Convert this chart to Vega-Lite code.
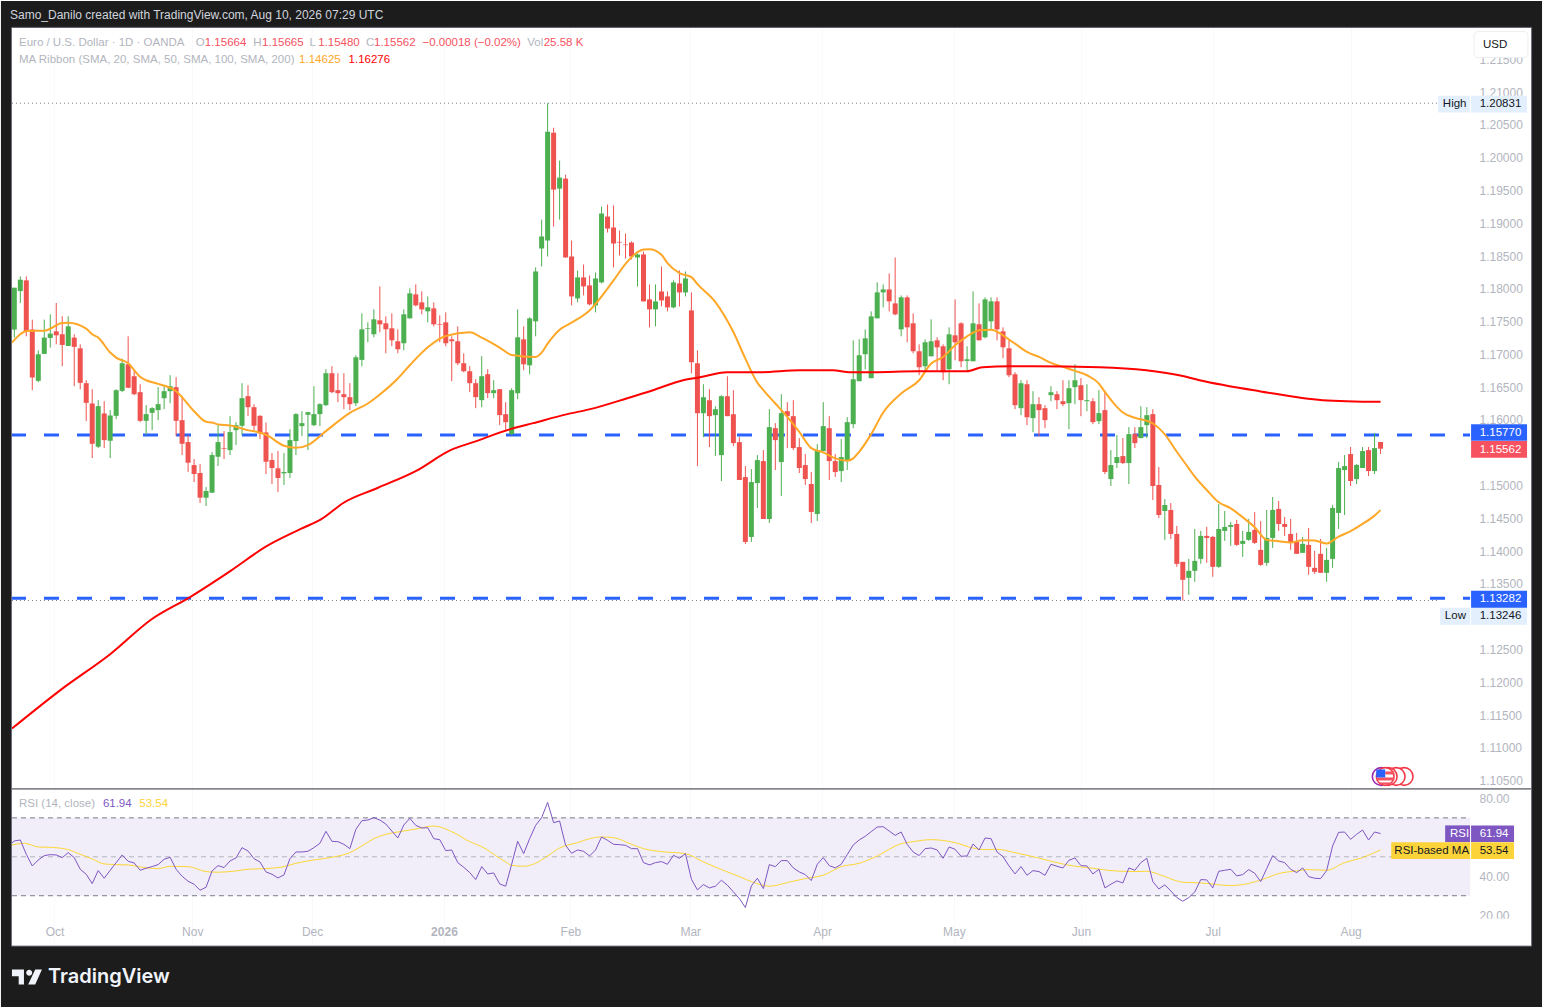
{
  "$schema": "https://vega.github.io/schema/vega-lite/v6.json",
  "width": 1543,
  "height": 1008,
  "autosize": {"type": "fit", "contains": "padding"},
  "padding": 0,
  "background": "#ffffff",
  "config": {
    "font": "Liberation Sans",
    "view": {"stroke": null},
    "axis": {"labelFont": "Liberation Sans", "labelFontSize": 12, "labelColor": "#b2b5be", "domain": false, "ticks": false, "title": null}
  },
  "datasets": {
    "candles": [
      {"i":0,"o":1.17378,"h":1.18017,"l":1.17256,"c":1.18017},
      {"i":1,"o":1.17966,"h":1.18189,"l":1.17784,"c":1.18139},
      {"i":2,"o":1.18129,"h":1.18189,"l":1.17276,"c":1.17357},
      {"i":3,"o":1.17378,"h":1.1753,"l":1.16454,"c":1.16647},
      {"i":4,"o":1.16596,"h":1.17063,"l":1.16576,"c":1.17002},
      {"i":5,"o":1.17007,"h":1.1753,"l":1.17007,"c":1.17256},
      {"i":6,"o":1.17251,"h":1.17611,"l":1.17104,"c":1.17317},
      {"i":7,"o":1.17352,"h":1.17784,"l":1.17154,"c":1.17291},
      {"i":8,"o":1.17307,"h":1.17581,"l":1.1682,"c":1.17144},
      {"i":9,"o":1.17129,"h":1.17581,"l":1.17129,"c":1.17428},
      {"i":10,"o":1.17256,"h":1.17307,"l":1.16515,"c":1.17114},
      {"i":11,"o":1.17093,"h":1.17154,"l":1.16469,"c":1.16566},
      {"i":12,"o":1.16561,"h":1.16606,"l":1.15982,"c":1.16261},
      {"i":13,"o":1.16251,"h":1.16469,"l":1.15419,"c":1.15637},
      {"i":14,"o":1.15592,"h":1.16302,"l":1.15571,"c":1.16211},
      {"i":15,"o":1.16099,"h":1.16287,"l":1.15571,"c":1.15693},
      {"i":16,"o":1.15683,"h":1.1615,"l":1.15419,"c":1.16068},
      {"i":17,"o":1.16063,"h":1.16469,"l":1.16013,"c":1.16454},
      {"i":18,"o":1.16444,"h":1.16936,"l":1.16424,"c":1.16865},
      {"i":19,"o":1.1685,"h":1.17276,"l":1.16485,"c":1.1649},
      {"i":20,"o":1.16667,"h":1.16759,"l":1.16378,"c":1.16393},
      {"i":21,"o":1.16424,"h":1.16545,"l":1.15967,"c":1.15987},
      {"i":22,"o":1.15987,"h":1.16226,"l":1.15769,"c":1.16089},
      {"i":23,"o":1.16109,"h":1.16195,"l":1.15845,"c":1.1618},
      {"i":24,"o":1.1615,"h":1.165,"l":1.15997,"c":1.16241},
      {"i":25,"o":1.16332,"h":1.16515,"l":1.16165,"c":1.16439},
      {"i":26,"o":1.16439,"h":1.16683,"l":1.16256,"c":1.16515},
      {"i":27,"o":1.165,"h":1.16652,"l":1.15754,"c":1.15987},
      {"i":28,"o":1.15997,"h":1.16363,"l":1.15465,"c":1.15637},
      {"i":29,"o":1.15663,"h":1.15769,"l":1.15206,"c":1.15348},
      {"i":30,"o":1.15312,"h":1.15404,"l":1.15054,"c":1.15176},
      {"i":31,"o":1.15191,"h":1.15328,"l":1.14734,"c":1.14815},
      {"i":32,"o":1.14815,"h":1.14978,"l":1.14688,"c":1.14917},
      {"i":33,"o":1.14891,"h":1.1551,"l":1.14886,"c":1.15465},
      {"i":34,"o":1.15439,"h":1.15921,"l":1.15297,"c":1.15663},
      {"i":35,"o":1.15571,"h":1.1583,"l":1.15404,"c":1.15561},
      {"i":36,"o":1.15541,"h":1.16058,"l":1.15465,"c":1.15815},
      {"i":37,"o":1.15845,"h":1.15967,"l":1.15617,"c":1.15921},
      {"i":38,"o":1.15911,"h":1.16561,"l":1.15769,"c":1.16332},
      {"i":39,"o":1.16363,"h":1.1653,"l":1.16058,"c":1.16195},
      {"i":40,"o":1.16195,"h":1.16241,"l":1.15845,"c":1.15911},
      {"i":41,"o":1.16063,"h":1.16074,"l":1.15708,"c":1.15795},
      {"i":42,"o":1.1581,"h":1.15962,"l":1.15176,"c":1.15363},
      {"i":43,"o":1.15389,"h":1.15495,"l":1.15023,"c":1.15267},
      {"i":44,"o":1.15262,"h":1.15526,"l":1.14901,"c":1.15115},
      {"i":45,"o":1.15186,"h":1.15495,"l":1.15008,"c":1.15206},
      {"i":46,"o":1.15191,"h":1.1586,"l":1.15115,"c":1.15693},
      {"i":47,"o":1.15678,"h":1.16104,"l":1.15465,"c":1.16089},
      {"i":48,"o":1.15906,"h":1.16134,"l":1.15754,"c":1.15952},
      {"i":49,"o":1.16079,"h":1.16119,"l":1.15541,"c":1.16119},
      {"i":50,"o":1.15921,"h":1.16515,"l":1.15906,"c":1.16089},
      {"i":51,"o":1.16089,"h":1.16256,"l":1.15906,"c":1.16241},
      {"i":52,"o":1.16226,"h":1.16774,"l":1.16211,"c":1.16713},
      {"i":53,"o":1.16713,"h":1.1682,"l":1.16409,"c":1.16424},
      {"i":54,"o":1.16454,"h":1.16713,"l":1.16271,"c":1.16409},
      {"i":55,"o":1.16393,"h":1.16713,"l":1.16165,"c":1.16348},
      {"i":56,"o":1.16348,"h":1.16561,"l":1.1615,"c":1.16241},
      {"i":57,"o":1.16256,"h":1.16987,"l":1.16211,"c":1.16956},
      {"i":58,"o":1.16916,"h":1.17626,"l":1.1682,"c":1.17383},
      {"i":59,"o":1.17388,"h":1.17489,"l":1.17185,"c":1.17398},
      {"i":60,"o":1.17307,"h":1.17687,"l":1.17261,"c":1.17535},
      {"i":61,"o":1.1752,"h":1.18037,"l":1.17337,"c":1.17459},
      {"i":62,"o":1.17474,"h":1.17581,"l":1.17017,"c":1.17383},
      {"i":63,"o":1.17398,"h":1.17626,"l":1.17124,"c":1.17215},
      {"i":64,"o":1.172,"h":1.17383,"l":1.17017,"c":1.17078},
      {"i":65,"o":1.1717,"h":1.17687,"l":1.17063,"c":1.17611},
      {"i":66,"o":1.1755,"h":1.18007,"l":1.1755,"c":1.17931},
      {"i":67,"o":1.17915,"h":1.18068,"l":1.17733,"c":1.17748},
      {"i":68,"o":1.17794,"h":1.17961,"l":1.17611,"c":1.17687},
      {"i":69,"o":1.17657,"h":1.17885,"l":1.17489,"c":1.17718},
      {"i":70,"o":1.17702,"h":1.17794,"l":1.17428,"c":1.17459},
      {"i":71,"o":1.17459,"h":1.17596,"l":1.17185,"c":1.17449},
      {"i":72,"o":1.17489,"h":1.17641,"l":1.17124,"c":1.1717},
      {"i":73,"o":1.1723,"h":1.17276,"l":1.16591,"c":1.172},
      {"i":74,"o":1.172,"h":1.17428,"l":1.16835,"c":1.16865},
      {"i":75,"o":1.16865,"h":1.17017,"l":1.16728,"c":1.16743},
      {"i":76,"o":1.16743,"h":1.1682,"l":1.16424,"c":1.16561},
      {"i":77,"o":1.16561,"h":1.16622,"l":1.1618,"c":1.16348},
      {"i":78,"o":1.16302,"h":1.16972,"l":1.16195,"c":1.16667},
      {"i":79,"o":1.16698,"h":1.16774,"l":1.16332,"c":1.16409},
      {"i":80,"o":1.16409,"h":1.16606,"l":1.16332,"c":1.16454},
      {"i":81,"o":1.16469,"h":1.16469,"l":1.15921,"c":1.16074},
      {"i":82,"o":1.16088,"h":1.16271,"l":1.15845,"c":1.15966},
      {"i":83,"o":1.15784,"h":1.16484,"l":1.15768,"c":1.16454},
      {"i":84,"o":1.16408,"h":1.17687,"l":1.16317,"c":1.1726},
      {"i":85,"o":1.1723,"h":1.17428,"l":1.16758,"c":1.16849},
      {"i":86,"o":1.16834,"h":1.17565,"l":1.16697,"c":1.17549},
      {"i":87,"o":1.17504,"h":1.18326,"l":1.17276,"c":1.18265},
      {"i":88,"o":1.18615,"h":1.19056,"l":1.18341,"c":1.18798},
      {"i":89,"o":1.18737,"h":1.20831,"l":1.18493,"c":1.20396},
      {"i":90,"o":1.20381,"h":1.20457,"l":1.1895,"c":1.19513},
      {"i":91,"o":1.19528,"h":1.19955,"l":1.19056,"c":1.19696},
      {"i":92,"o":1.19681,"h":1.19741,"l":1.18478,"c":1.18478},
      {"i":93,"o":1.18493,"h":1.18737,"l":1.17747,"c":1.17884},
      {"i":94,"o":1.17854,"h":1.1828,"l":1.17793,"c":1.18174},
      {"i":95,"o":1.18174,"h":1.18371,"l":1.179,"c":1.18037},
      {"i":96,"o":1.18052,"h":1.18204,"l":1.17747,"c":1.17763},
      {"i":97,"o":1.17747,"h":1.1825,"l":1.17641,"c":1.18158},
      {"i":98,"o":1.18098,"h":1.19254,"l":1.18082,"c":1.19148},
      {"i":99,"o":1.19102,"h":1.19285,"l":1.18859,"c":1.18919},
      {"i":100,"o":1.18935,"h":1.1927,"l":1.18326,"c":1.18691},
      {"i":101,"o":1.18716,"h":1.18889,"l":1.18508,"c":1.18706},
      {"i":102,"o":1.18676,"h":1.18843,"l":1.18463,"c":1.18666},
      {"i":103,"o":1.18706,"h":1.18722,"l":1.18448,"c":1.18493},
      {"i":104,"o":1.18478,"h":1.18539,"l":1.18037,"c":1.18524},
      {"i":105,"o":1.18524,"h":1.18569,"l":1.17808,"c":1.17808},
      {"i":106,"o":1.17839,"h":1.18067,"l":1.17412,"c":1.17687},
      {"i":107,"o":1.17687,"h":1.18067,"l":1.17428,"c":1.17808},
      {"i":108,"o":1.1796,"h":1.18341,"l":1.17732,"c":1.17823},
      {"i":109,"o":1.17884,"h":1.1796,"l":1.17656,"c":1.17717},
      {"i":110,"o":1.17717,"h":1.18128,"l":1.17702,"c":1.18098},
      {"i":111,"o":1.18082,"h":1.1828,"l":1.17732,"c":1.17945},
      {"i":112,"o":1.17945,"h":1.18265,"l":1.17884,"c":1.18158},
      {"i":113,"o":1.17671,"h":1.17945,"l":1.16712,"c":1.1688},
      {"i":114,"o":1.16864,"h":1.17062,"l":1.15297,"c":1.16103},
      {"i":115,"o":1.16103,"h":1.16545,"l":1.15738,"c":1.16347},
      {"i":116,"o":1.16301,"h":1.16469,"l":1.15586,"c":1.16058},
      {"i":117,"o":1.16073,"h":1.1621,"l":1.15449,"c":1.16164},
      {"i":118,"o":1.15464,"h":1.16377,"l":1.15068,"c":1.16362},
      {"i":119,"o":1.16362,"h":1.16667,"l":1.16058,"c":1.16058},
      {"i":120,"o":1.16088,"h":1.16454,"l":1.15601,"c":1.15647},
      {"i":121,"o":1.15662,"h":1.15738,"l":1.15084,"c":1.15084},
      {"i":122,"o":1.15129,"h":1.15297,"l":1.14109,"c":1.1414},
      {"i":123,"o":1.14216,"h":1.15251,"l":1.1414,"c":1.15053},
      {"i":124,"o":1.15038,"h":1.15464,"l":1.14657,"c":1.15388},
      {"i":125,"o":1.15373,"h":1.15541,"l":1.1449,"c":1.1449},
      {"i":126,"o":1.1449,"h":1.16165,"l":1.14429,"c":1.15891},
      {"i":127,"o":1.15875,"h":1.15952,"l":1.15236,"c":1.15693},
      {"i":128,"o":1.15358,"h":1.16393,"l":1.1484,"c":1.16104},
      {"i":129,"o":1.16134,"h":1.16271,"l":1.15571,"c":1.16058},
      {"i":130,"o":1.16058,"h":1.16302,"l":1.15541,"c":1.15571},
      {"i":131,"o":1.15586,"h":1.15723,"l":1.1519,"c":1.15267},
      {"i":132,"o":1.15312,"h":1.1548,"l":1.15008,"c":1.15099},
      {"i":133,"o":1.15023,"h":1.15206,"l":1.14429,"c":1.14597},
      {"i":134,"o":1.14566,"h":1.15632,"l":1.1446,"c":1.15541},
      {"i":135,"o":1.15525,"h":1.16271,"l":1.15525,"c":1.15906},
      {"i":136,"o":1.15875,"h":1.16058,"l":1.15084,"c":1.15373},
      {"i":137,"o":1.15373,"h":1.1548,"l":1.1513,"c":1.15206},
      {"i":138,"o":1.15221,"h":1.15708,"l":1.15053,"c":1.15434},
      {"i":139,"o":1.15388,"h":1.16043,"l":1.15236,"c":1.15967},
      {"i":140,"o":1.15936,"h":1.17215,"l":1.15875,"c":1.16621},
      {"i":141,"o":1.16591,"h":1.1723,"l":1.16591,"c":1.16987},
      {"i":142,"o":1.17002,"h":1.17382,"l":1.16774,"c":1.17245},
      {"i":143,"o":1.16637,"h":1.17656,"l":1.16637,"c":1.1758},
      {"i":144,"o":1.1755,"h":1.18098,"l":1.1755,"c":1.17946},
      {"i":145,"o":1.17946,"h":1.18067,"l":1.17717,"c":1.17991},
      {"i":146,"o":1.17991,"h":1.18235,"l":1.17656,"c":1.17809},
      {"i":147,"o":1.17778,"h":1.18478,"l":1.17596,"c":1.17611},
      {"i":148,"o":1.17382,"h":1.179,"l":1.17276,"c":1.1787},
      {"i":149,"o":1.1787,"h":1.179,"l":1.17185,"c":1.17413},
      {"i":150,"o":1.17474,"h":1.17626,"l":1.17017,"c":1.17048},
      {"i":151,"o":1.17048,"h":1.17154,"l":1.16682,"c":1.16804},
      {"i":152,"o":1.16819,"h":1.1723,"l":1.16728,"c":1.17185},
      {"i":153,"o":1.16971,"h":1.17535,"l":1.16971,"c":1.172},
      {"i":154,"o":1.17215,"h":1.17261,"l":1.16758,"c":1.17108},
      {"i":155,"o":1.17124,"h":1.17154,"l":1.16606,"c":1.16728},
      {"i":156,"o":1.16774,"h":1.17413,"l":1.16545,"c":1.17306},
      {"i":157,"o":1.17291,"h":1.17839,"l":1.16911,"c":1.17185},
      {"i":158,"o":1.17474,"h":1.17489,"l":1.16804,"c":1.16895},
      {"i":159,"o":1.169,"h":1.17124,"l":1.16758,"c":1.16926},
      {"i":160,"o":1.16895,"h":1.17961,"l":1.16895,"c":1.17474},
      {"i":161,"o":1.17459,"h":1.17778,"l":1.17215,"c":1.17215},
      {"i":162,"o":1.17261,"h":1.1787,"l":1.17245,"c":1.17839},
      {"i":163,"o":1.17504,"h":1.1787,"l":1.17367,"c":1.17809},
      {"i":164,"o":1.17809,"h":1.1787,"l":1.17215,"c":1.17382},
      {"i":165,"o":1.17352,"h":1.17413,"l":1.16941,"c":1.17108},
      {"i":166,"o":1.17093,"h":1.17215,"l":1.16652,"c":1.16682},
      {"i":167,"o":1.16697,"h":1.16728,"l":1.16165,"c":1.16226},
      {"i":168,"o":1.1618,"h":1.16606,"l":1.16073,"c":1.1656},
      {"i":169,"o":1.16545,"h":1.16606,"l":1.15921,"c":1.16043},
      {"i":170,"o":1.16028,"h":1.16439,"l":1.15815,"c":1.16241},
      {"i":171,"o":1.16241,"h":1.16347,"l":1.15754,"c":1.1615},
      {"i":172,"o":1.1618,"h":1.16226,"l":1.15875,"c":1.15997},
      {"i":173,"o":1.16378,"h":1.16515,"l":1.16286,"c":1.16423},
      {"i":174,"o":1.16393,"h":1.16439,"l":1.16165,"c":1.16302},
      {"i":175,"o":1.16286,"h":1.16606,"l":1.1621,"c":1.16241},
      {"i":176,"o":1.16256,"h":1.16606,"l":1.1586,"c":1.16484},
      {"i":177,"o":1.165,"h":1.1685,"l":1.16241,"c":1.16606},
      {"i":178,"o":1.1653,"h":1.16637,"l":1.16058,"c":1.16302},
      {"i":179,"o":1.16286,"h":1.16545,"l":1.16134,"c":1.16302},
      {"i":180,"o":1.16286,"h":1.16332,"l":1.15936,"c":1.15967},
      {"i":181,"o":1.15982,"h":1.16454,"l":1.15936,"c":1.16104},
      {"i":182,"o":1.1615,"h":1.16439,"l":1.15175,"c":1.15206},
      {"i":183,"o":1.15099,"h":1.15541,"l":1.14993,"c":1.15312},
      {"i":184,"o":1.15343,"h":1.15769,"l":1.15267,"c":1.15434},
      {"i":185,"o":1.15449,"h":1.15723,"l":1.15327,"c":1.15343},
      {"i":186,"o":1.15343,"h":1.15891,"l":1.15023,"c":1.15784},
      {"i":187,"o":1.15784,"h":1.15891,"l":1.15571,"c":1.15647},
      {"i":188,"o":1.15723,"h":1.1621,"l":1.15723,"c":1.15891},
      {"i":189,"o":1.15921,"h":1.16195,"l":1.15723,"c":1.16073},
      {"i":190,"o":1.16089,"h":1.16165,"l":1.14779,"c":1.14993},
      {"i":191,"o":1.15008,"h":1.15282,"l":1.14505,"c":1.14551},
      {"i":192,"o":1.14612,"h":1.14795,"l":1.14171,"c":1.14703},
      {"i":193,"o":1.14627,"h":1.14734,"l":1.14186,"c":1.14262},
      {"i":194,"o":1.14262,"h":1.14384,"l":1.1376,"c":1.13805},
      {"i":195,"o":1.13836,"h":1.13836,"l":1.13246,"c":1.13562},
      {"i":196,"o":1.13592,"h":1.13881,"l":1.13333,"c":1.13699},
      {"i":197,"o":1.13699,"h":1.14338,"l":1.13531,"c":1.13851},
      {"i":198,"o":1.13882,"h":1.14308,"l":1.13806,"c":1.14232},
      {"i":199,"o":1.14232,"h":1.14369,"l":1.13821,"c":1.14201},
      {"i":200,"o":1.14217,"h":1.14232,"l":1.13608,"c":1.1376},
      {"i":201,"o":1.1376,"h":1.14719,"l":1.13745,"c":1.14338},
      {"i":202,"o":1.14308,"h":1.14612,"l":1.14156,"c":1.14369},
      {"i":203,"o":1.14369,"h":1.14445,"l":1.1408,"c":1.14399},
      {"i":204,"o":1.14414,"h":1.14475,"l":1.1408,"c":1.14095},
      {"i":205,"o":1.1411,"h":1.14308,"l":1.13912,"c":1.14156},
      {"i":206,"o":1.14171,"h":1.14491,"l":1.14156,"c":1.14293},
      {"i":207,"o":1.14323,"h":1.14597,"l":1.1411,"c":1.14125},
      {"i":208,"o":1.14019,"h":1.1446,"l":1.13775,"c":1.1379},
      {"i":209,"o":1.13821,"h":1.14628,"l":1.13775,"c":1.14201},
      {"i":210,"o":1.14201,"h":1.14825,"l":1.14049,"c":1.14628},
      {"i":211,"o":1.14643,"h":1.14765,"l":1.14308,"c":1.14414},
      {"i":212,"o":1.14414,"h":1.14521,"l":1.14232,"c":1.14369},
      {"i":213,"o":1.14262,"h":1.14491,"l":1.14019,"c":1.14125},
      {"i":214,"o":1.1414,"h":1.14278,"l":1.13958,"c":1.13958},
      {"i":215,"o":1.13973,"h":1.14217,"l":1.13973,"c":1.1411},
      {"i":216,"o":1.14095,"h":1.14354,"l":1.13638,"c":1.1376},
      {"i":217,"o":1.13745,"h":1.14003,"l":1.13653,"c":1.13684},
      {"i":218,"o":1.13958,"h":1.14186,"l":1.13669,"c":1.13669},
      {"i":219,"o":1.13669,"h":1.14049,"l":1.13532,"c":1.13866},
      {"i":220,"o":1.13882,"h":1.14704,"l":1.13745,"c":1.14658},
      {"i":221,"o":1.14582,"h":1.15358,"l":1.14338,"c":1.15267},
      {"i":222,"o":1.15236,"h":1.15465,"l":1.14551,"c":1.15297},
      {"i":223,"o":1.1548,"h":1.15587,"l":1.14993,"c":1.15069},
      {"i":224,"o":1.15099,"h":1.15328,"l":1.15023,"c":1.15313},
      {"i":225,"o":1.15267,"h":1.15587,"l":1.15267,"c":1.15526},
      {"i":226,"o":1.15541,"h":1.15587,"l":1.15145,"c":1.15221},
      {"i":227,"o":1.15221,"h":1.158,"l":1.15176,"c":1.15571},
      {"i":228,"o":1.15664,"h":1.15665,"l":1.1548,"c":1.15562}
    ],
    "maFast": [
      {"i":-0.39,"p":1.1718},{"i":1,"p":1.17307},{"i":2,"p":1.17357},{"i":5,"p":1.17362},{"i":8,"p":1.17479},{"i":9,"p":1.17484},{"i":12,"p":1.17393},{"i":13,"p":1.17307},{"i":14,"p":1.17256},{"i":16,"p":1.17028},{"i":17,"p":1.16951},{"i":19,"p":1.16865},{"i":21,"p":1.16657},{"i":22,"p":1.16606},{"i":24,"p":1.16551},{"i":27,"p":1.16439},{"i":30,"p":1.16134},{"i":32,"p":1.15972},{"i":33,"p":1.15962},{"i":34,"p":1.15932},{"i":36,"p":1.15916},{"i":39,"p":1.15845},{"i":41,"p":1.15805},{"i":42,"p":1.15774},{"i":45,"p":1.15607},{"i":47,"p":1.15576},{"i":49,"p":1.15617},{"i":52,"p":1.1583},{"i":56,"p":1.16109},{"i":59,"p":1.16251},{"i":61,"p":1.16388},{"i":64,"p":1.16632},{"i":66,"p":1.16835},{"i":69,"p":1.17109},{"i":72,"p":1.17281},{"i":76,"p":1.17337},{"i":78,"p":1.17256},{"i":81,"p":1.17104},{"i":83,"p":1.16991},{"i":87,"p":1.16961},{"i":88,"p":1.17027},{"i":89,"p":1.17164},{"i":91,"p":1.17377},{"i":93,"p":1.17484},{"i":96,"p":1.17671},{"i":100,"p":1.18128},{"i":102,"p":1.18382},{"i":104,"p":1.18559},{"i":105,"p":1.186},{"i":106,"p":1.18605},{"i":108,"p":1.18519},{"i":109,"p":1.18392},{"i":111,"p":1.1824},{"i":113,"p":1.18179},{"i":114,"p":1.18072},{"i":117,"p":1.17798},{"i":120,"p":1.17341},{"i":122,"p":1.16936},{"i":124,"p":1.1657},{"i":125,"p":1.16454},{"i":127,"p":1.16251},{"i":129,"p":1.16048},{"i":131,"p":1.1582},{"i":133,"p":1.15571},{"i":135,"p":1.15505},{"i":137,"p":1.15414},{"i":139,"p":1.15378},{"i":140,"p":1.15414},{"i":141,"p":1.15515},{"i":143,"p":1.15784},{"i":145,"p":1.16114},{"i":148,"p":1.16403},{"i":151,"p":1.16606},{"i":153,"p":1.1686},{"i":155,"p":1.16961},{"i":157,"p":1.17139},{"i":159,"p":1.17276},{"i":161,"p":1.17367},{"i":163,"p":1.17377},{"i":165,"p":1.17291},{"i":166,"p":1.17225},{"i":167,"p":1.17164},{"i":169,"p":1.17037},{"i":171,"p":1.16961},{"i":173,"p":1.1687},{"i":175,"p":1.16809},{"i":177,"p":1.16748},{"i":179,"p":1.16682},{"i":181,"p":1.16555},{"i":182,"p":1.16429},{"i":184,"p":1.162},{"i":185,"p":1.16114},{"i":187,"p":1.16033},{"i":189,"p":1.15987},{"i":190,"p":1.15946},{"i":192,"p":1.15779},{"i":194,"p":1.15515},{"i":196,"p":1.15262},{"i":197,"p":1.15135},{"i":199,"p":1.14932},{"i":201,"p":1.14744},{"i":203,"p":1.14653},{"i":205,"p":1.14516},{"i":207,"p":1.14364},{"i":209,"p":1.14171},{"i":211,"p":1.14151},{"i":213,"p":1.1413},{"i":215,"p":1.14166},{"i":217,"p":1.14161},{"i":219,"p":1.14115},{"i":221,"p":1.14222},{"i":223,"p":1.14303},{"i":225,"p":1.14414},{"i":227,"p":1.14541},{"i":228,"p":1.14625}
    ],
    "maSlow": [
      {"i":-0.39,"p":1.11294},{"i":7.8,"p":1.11888},{"i":16.1,"p":1.12435},{"i":22.8,"p":1.12953},{"i":29.4,"p":1.13303},{"i":36.1,"p":1.13699},{"i":41.9,"p":1.14064},{"i":47.8,"p":1.14338},{"i":51.3,"p":1.1449},{"i":54.9,"p":1.14734},{"i":60.6,"p":1.14962},{"i":67.3,"p":1.15236},{"i":72.8,"p":1.15541},{"i":76.6,"p":1.15662},{"i":82.8,"p":1.1586},{"i":86.6,"p":1.15952},{"i":92.3,"p":1.16089},{"i":96.1,"p":1.16165},{"i":102.3,"p":1.16332},{"i":106.6,"p":1.16454},{"i":111.6,"p":1.16606},{"i":114.4,"p":1.16652},{"i":118.9,"p":1.16728},{"i":124.4,"p":1.16728},{"i":131.1,"p":1.16758},{"i":136.6,"p":1.16758},{"i":139.4,"p":1.16728},{"i":143.3,"p":1.16728},{"i":150.6,"p":1.16743},{"i":158.9,"p":1.16743},{"i":161.6,"p":1.16804},{"i":166.1,"p":1.16819},{"i":169.9,"p":1.16819},{"i":181.1,"p":1.16804},{"i":188.9,"p":1.16758},{"i":194.4,"p":1.16682},{"i":197.8,"p":1.16606},{"i":207.8,"p":1.16439},{"i":218.3,"p":1.16302},{"i":228,"p":1.16276}
    ],
    "rsi": [
      {"i":-0.39,"v":57.2},{"i":0,"v":58.12},{"i":1,"v":58.64},{"i":2,"v":51.29},{"i":3,"v":45.3},{"i":4,"v":48.38},{"i":5,"v":50.6},{"i":6,"v":51.11},{"i":7,"v":50.94},{"i":8,"v":49.58},{"i":9,"v":52.14},{"i":10,"v":49.58},{"i":11,"v":43.59},{"i":12,"v":41.03},{"i":13,"v":36.24},{"i":14,"v":42.91},{"i":15,"v":38.98},{"i":16,"v":43.08},{"i":17,"v":47.01},{"i":18,"v":50.94},{"i":19,"v":47.7},{"i":20,"v":46.84},{"i":21,"v":43.08},{"i":22,"v":44.11},{"i":23,"v":44.96},{"i":24,"v":45.99},{"i":25,"v":48.72},{"i":26,"v":49.75},{"i":27,"v":43.59},{"i":28,"v":40},{"i":29,"v":37.44},{"i":30,"v":35.9},{"i":31,"v":32.82},{"i":32,"v":34.36},{"i":33,"v":42.74},{"i":34,"v":45.47},{"i":35,"v":44.45},{"i":36,"v":47.87},{"i":37,"v":49.41},{"i":38,"v":54.71},{"i":39,"v":52.98},{"i":40,"v":49.06},{"i":41,"v":47.35},{"i":42,"v":42.23},{"i":43,"v":41.03},{"i":44,"v":39.15},{"i":45,"v":40.69},{"i":46,"v":49.06},{"i":47,"v":52.48},{"i":48,"v":52.48},{"i":49,"v":52.83},{"i":50,"v":54.71},{"i":51,"v":56.93},{"i":52,"v":63.08},{"i":53,"v":57.95},{"i":54,"v":57.78},{"i":55,"v":56.41},{"i":56,"v":54.19},{"i":57,"v":64.11},{"i":58,"v":68.55},{"i":59,"v":68.89},{"i":60,"v":70.09},{"i":61,"v":68.89},{"i":62,"v":66.84},{"i":63,"v":63.25},{"i":64,"v":59.66},{"i":65,"v":66.33},{"i":66,"v":69.75},{"i":67,"v":66.16},{"i":68,"v":64.79},{"i":69,"v":64.96},{"i":70,"v":59.32},{"i":71,"v":58.81},{"i":72,"v":53.17},{"i":73,"v":53.51},{"i":74,"v":47.01},{"i":75,"v":44.62},{"i":76,"v":41.88},{"i":77,"v":38.29},{"i":78,"v":44.96},{"i":79,"v":41.2},{"i":80,"v":41.71},{"i":81,"v":36.07},{"i":82,"v":34.88},{"i":83,"v":46.16},{"i":84,"v":57.95},{"i":85,"v":51.63},{"i":86,"v":59.32},{"i":87,"v":66.16},{"i":88,"v":70.09},{"i":89,"v":77.95},{"i":90,"v":67.53},{"i":91,"v":68.38},{"i":92,"v":55.9},{"i":93,"v":51.8},{"i":94,"v":53.51},{"i":95,"v":52.83},{"i":96,"v":50.43},{"i":97,"v":53.51},{"i":98,"v":60.18},{"i":99,"v":58.47},{"i":100,"v":56.41},{"i":101,"v":56.24},{"i":102,"v":55.9},{"i":103,"v":54.19},{"i":104,"v":54.19},{"i":105,"v":47.01},{"i":106,"v":45.82},{"i":107,"v":47.01},{"i":108,"v":47.53},{"i":109,"v":46.16},{"i":110,"v":50.77},{"i":111,"v":49.24},{"i":112,"v":51.63},{"i":113,"v":38.47},{"i":114,"v":32.99},{"i":115,"v":35.73},{"i":116,"v":34.02},{"i":117,"v":34.88},{"i":118,"v":37.95},{"i":119,"v":35.39},{"i":120,"v":31.97},{"i":121,"v":28.55},{"i":122,"v":23.94},{"i":123,"v":35.05},{"i":124,"v":38.98},{"i":125,"v":33.68},{"i":126,"v":45.99},{"i":127,"v":44.96},{"i":128,"v":48.04},{"i":129,"v":48.04},{"i":130,"v":44.28},{"i":131,"v":42.23},{"i":132,"v":40.86},{"i":133,"v":37.78},{"i":134,"v":46.16},{"i":135,"v":49.58},{"i":136,"v":45.47},{"i":137,"v":44.28},{"i":138,"v":46.16},{"i":139,"v":51.11},{"i":140,"v":56.07},{"i":141,"v":58.64},{"i":142,"v":60.52},{"i":143,"v":62.91},{"i":144,"v":65.3},{"i":145,"v":65.47},{"i":146,"v":63.25},{"i":147,"v":61.03},{"i":148,"v":62.74},{"i":149,"v":56.41},{"i":150,"v":52.48},{"i":151,"v":50.6},{"i":152,"v":54.19},{"i":153,"v":54.53},{"i":154,"v":53.51},{"i":155,"v":49.24},{"i":156,"v":55.05},{"i":157,"v":53.85},{"i":158,"v":50.26},{"i":159,"v":50.43},{"i":160,"v":56.59},{"i":161,"v":53.51},{"i":162,"v":59.66},{"i":163,"v":59.32},{"i":164,"v":52.48},{"i":165,"v":50.08},{"i":166,"v":45.3},{"i":167,"v":41.19},{"i":168,"v":44.96},{"i":169,"v":40.51},{"i":170,"v":42.9},{"i":171,"v":42.39},{"i":172,"v":40.51},{"i":173,"v":46.15},{"i":174,"v":45.13},{"i":175,"v":44.27},{"i":176,"v":48.2},{"i":177,"v":49.4},{"i":178,"v":45.47},{"i":179,"v":45.3},{"i":180,"v":41.19},{"i":181,"v":43.59},{"i":182,"v":34.02},{"i":183,"v":35.9},{"i":184,"v":37.61},{"i":185,"v":36.58},{"i":186,"v":44.27},{"i":187,"v":43.07},{"i":188,"v":47.01},{"i":189,"v":49.23},{"i":190,"v":37.26},{"i":191,"v":33.5},{"i":192,"v":35.55},{"i":193,"v":32.48},{"i":194,"v":29.06},{"i":195,"v":27.18},{"i":196,"v":29.06},{"i":197,"v":31.96},{"i":198,"v":38.29},{"i":199,"v":38.12},{"i":200,"v":34.02},{"i":201,"v":42.56},{"i":202,"v":43.07},{"i":203,"v":43.59},{"i":204,"v":40.17},{"i":205,"v":40.85},{"i":206,"v":43.42},{"i":207,"v":41.54},{"i":208,"v":37.26},{"i":209,"v":43.93},{"i":210,"v":50.6},{"i":211,"v":47.86},{"i":212,"v":47.01},{"i":213,"v":43.59},{"i":214,"v":41.88},{"i":215,"v":44.27},{"i":216,"v":39.83},{"i":217,"v":38.97},{"i":218,"v":38.8},{"i":219,"v":42.9},{"i":220,"v":55.55},{"i":221,"v":62.56},{"i":222,"v":62.73},{"i":223,"v":58.97},{"i":224,"v":61.54},{"i":225,"v":63.76},{"i":226,"v":58.63},{"i":227,"v":62.73},{"i":228,"v":61.94}
    ],
    "rsiMa": [
      {"i":-0.39,"v":56.07},{"i":1.7,"v":56.93},{"i":4,"v":55.05},{"i":6,"v":54.88},{"i":9,"v":53.68},{"i":11,"v":51.29},{"i":13,"v":48.89},{"i":15,"v":46.33},{"i":17,"v":45.99},{"i":19,"v":45.82},{"i":21,"v":44.79},{"i":24,"v":43.94},{"i":26,"v":45.13},{"i":29,"v":44.96},{"i":32,"v":42.4},{"i":34,"v":42.06},{"i":37,"v":42.74},{"i":39,"v":43.59},{"i":42,"v":43.94},{"i":45,"v":44.96},{"i":47,"v":46.67},{"i":50,"v":48.38},{"i":53,"v":49.75},{"i":56,"v":52.14},{"i":58,"v":55.56},{"i":60,"v":59.32},{"i":62,"v":61.54},{"i":64,"v":62.74},{"i":67,"v":64.28},{"i":70,"v":65.82},{"i":73,"v":62.91},{"i":76,"v":57.78},{"i":78,"v":55.22},{"i":81,"v":49.24},{"i":82,"v":47.35},{"i":83,"v":45.65},{"i":85,"v":45.13},{"i":87,"v":46.67},{"i":89,"v":50.43},{"i":91,"v":54.53},{"i":94,"v":57.27},{"i":96,"v":59.32},{"i":98,"v":60.18},{"i":100,"v":59.83},{"i":103,"v":56.41},{"i":105,"v":54.19},{"i":108,"v":52.65},{"i":112,"v":51.63},{"i":115,"v":47.35},{"i":118,"v":43.42},{"i":121,"v":39.83},{"i":123,"v":37.27},{"i":126,"v":34.88},{"i":129,"v":36.76},{"i":132,"v":38.81},{"i":135,"v":40.52},{"i":138,"v":44.96},{"i":141,"v":46.67},{"i":144,"v":50.43},{"i":148,"v":56.76},{"i":150,"v":57.78},{"i":153,"v":58.81},{"i":157,"v":57.27},{"i":160,"v":54.53},{"i":162,"v":53.68},{"i":164,"v":53.85},{"i":167,"v":52.13},{"i":170,"v":50.08},{"i":172,"v":48.54},{"i":176,"v":45.64},{"i":180,"v":44.1},{"i":183,"v":42.9},{"i":187,"v":42.39},{"i":189,"v":42.56},{"i":192,"v":39.83},{"i":195,"v":36.92},{"i":198,"v":36.58},{"i":203,"v":35.21},{"i":207,"v":37.09},{"i":209,"v":39.14},{"i":211,"v":41.37},{"i":214,"v":42.73},{"i":216,"v":43.42},{"i":219,"v":43.07},{"i":222,"v":47.01},{"i":225,"v":49.57},{"i":228,"v":53.54}
    ],
    "boxes": [
      {"i":-2.23,"i2":254.95,"p":1.2239,"p2":1.21979,"k":"dark"},
      {"i":-2.23,"i2":-0.555,"p":1.21979,"p2":1.07976,"k":"dark"},
      {"i":253.28,"i2":254.95,"p":1.21979,"p2":1.07976,"k":"dark"},
      {"i":-2.23,"i2":254.95,"p":1.07976,"p2":1.07047,"k":"dark"},
      {"i":243,"i2":253.1,"p":1.08394,"p2":1.07983,"k":"white"},
      {"i":237.61,"i2":242.9,"p":1.20944,"p2":1.2069,"k":"pale"},
      {"i":243.11,"i2":252.45,"p":1.20944,"p2":1.2069,"k":"pale"},
      {"i":237.95,"i2":242.94,"p":1.13136,"p2":1.12877,"k":"pale"},
      {"i":243.11,"i2":252.45,"p":1.13136,"p2":1.12877,"k":"pale"},
      {"i":243.11,"i2":252.45,"p":1.15936,"p2":1.15682,"k":"blue"},
      {"i":243.11,"i2":252.45,"p":1.15678,"p2":1.15423,"k":"red"},
      {"i":243.11,"i2":252.45,"p":1.13394,"p2":1.13136,"k":"blue"},
      {"i":238.78,"i2":242.94,"p":1.09817,"p2":1.09563,"k":"purple"},
      {"i":243.11,"i2":250.28,"p":1.09817,"p2":1.09563,"k":"purple"},
      {"i":229.78,"i2":242.94,"p":1.09559,"p2":1.09305,"k":"yellow"},
      {"i":243.11,"i2":250.28,"p":1.09559,"p2":1.09305,"k":"yellow"}
    ],
    "labels": [
      {"i":0.78,"p":1.21751,"t":"Euro / U.S. Dollar · 1D · OANDA","k":"gray"},
      {"i":30.28,"p":1.21751,"t":"O","k":"gray"},
      {"i":31.78,"p":1.21751,"t":"1.15664","k":"red"},
      {"i":39.88,"p":1.21751,"t":"H","k":"gray"},
      {"i":41.35,"p":1.21751,"t":"1.15665","k":"red"},
      {"i":49.28,"p":1.21751,"t":"L","k":"gray"},
      {"i":50.71,"p":1.21751,"t":"1.15480","k":"red"},
      {"i":58.7,"p":1.21751,"t":"C","k":"gray"},
      {"i":60.03,"p":1.21751,"t":"1.15562","k":"red"},
      {"i":68.11,"p":1.21751,"t":"−0.00018 (−0.02%)","k":"red"},
      {"i":85.6,"p":1.21751,"t":"Vol","k":"gray"},
      {"i":88.35,"p":1.21751,"t":"25.58 K","k":"red"},
      {"i":0.78,"p":1.21492,"t":"MA Ribbon (SMA, 20, SMA, 50, SMA, 100, SMA, 200)","k":"gray"},
      {"i":47.53,"p":1.21492,"t":"1.14625","k":"orange"},
      {"i":55.78,"p":1.21492,"t":"1.16276","k":"pure"},
      {"i":0.78,"p":1.10137,"t":"RSI (14, close)","k":"gray"},
      {"i":14.78,"p":1.10137,"t":"61.94","k":"purple"},
      {"i":20.86,"p":1.10137,"t":"53.54","k":"yellow"},
      {"i":245.11,"p":1.2172,"t":"USD","k":"black"},
      {"i":238.4,"p":1.20822,"t":"High","k":"black"},
      {"i":244.55,"p":1.20822,"t":"1.20831","k":"black"},
      {"i":238.73,"p":1.13006,"t":"Low","k":"black"},
      {"i":244.55,"p":1.13006,"t":"1.13246","k":"black"},
      {"i":244.55,"p":1.15807,"t":"1.15770","k":"white"},
      {"i":244.55,"p":1.15548,"t":"1.15562","k":"white"},
      {"i":244.55,"p":1.13265,"t":"1.13282","k":"white"},
      {"i":239.6,"p":1.09688,"t":"RSI","k":"white"},
      {"i":244.55,"p":1.09688,"t":"61.94","k":"white"},
      {"i":230.3,"p":1.09429,"t":"RSI-based MA","k":"black"},
      {"i":244.55,"p":1.09429,"t":"53.54","k":"black"}
    ],
    "flagRings": [
      {"i":231.94,"p":1.10563,"k":"pure"},
      {"i":230.61,"p":1.10563,"k":"pure"},
      {"i":229.28,"p":1.10563,"k":"pure"},
      {"i":228.11,"p":1.10563,"k":"purple"},
      {"i":228.78,"p":1.10563,"k":"pure"}
    ],
    "flagParts": [
      {"i":228.78,"i2":230.28,"p":1.1064,"p2":1.10594,"k":"red"},
      {"i":227.28,"i2":230.28,"p":1.10548,"p2":1.10502,"k":"red"},
      {"i":227.78,"i2":229.78,"p":1.10472,"p2":1.10442,"k":"red"},
      {"i":227.28,"i2":228.78,"p":1.1067,"p2":1.10548,"k":"blue"}
    ]
  },
  "encoding": {
    "x": {
      "field": "i",
      "type": "quantitative",
      "scale": {"domain": [-2.2217, 254.945], "nice": false, "zero": false, "padding": 0},
      "axis": {
        "orient": "bottom",
        "offset": -90,
        "labelPadding": 9,
        "title": null,
        "values": [6.7, 29.7, 49.7, 71.7, 92.8, 112.8, 134.8, 156.8, 178, 200, 223],
        "labelExpr": "{'6.7':'Oct','29.7':'Nov','49.7':'Dec','71.7':'2026','92.8':'Feb','112.8':'Mar','134.8':'Apr','156.8':'May','178':'Jun','200':'Jul','223':'Aug'}[datum.value]",
        "labelFontWeight": {"condition": {"test": "datum.value == 71.7", "value": "bold"}, "value": "normal"},
        "grid": true,
        "gridColor": "#f9f9fb"
      }
    }
  },
  "layer": [
    {
      "layer": [
        {
          "data": {"values": [{"i":-0.39,"i2":242.94,"v":70,"v2":30}]},
          "mark": {"type": "rect", "color": "#f1edf9"},
          "encoding": {
            "x2": {"field": "i2"},
            "y": {
              "field": "v",
              "type": "quantitative",
              "scale": {"domain": [-27.18, 489.74], "nice": false, "zero": false},
              "axis": {
                "orient": "right",
                "offset": -72,
                "labelPadding": 9,
                "title": null,
                "format": ".2f",
                "values": [20, 40, 80],
                "grid": false
              }
            },
            "y2": {"field": "v2"}
          }
        },
        {
          "data": {"values": [{"i":-0.39,"i2":242.94,"v":70},{"i":-0.39,"i2":242.94,"v":30}]},
          "mark": {"type": "rule", "color": "#787b86", "strokeWidth": 1, "strokeDash": [5, 4]},
          "encoding": {
            "x2": {"field": "i2"},
            "y": {"field": "v", "type": "quantitative"}
          }
        },
        {
          "data": {"values": [{"i":-0.39,"i2":242.94,"v":50}]},
          "mark": {"type": "rule", "color": "#b2b5be", "strokeWidth": 1, "strokeDash": [5, 4]},
          "encoding": {
            "x2": {"field": "i2"},
            "y": {"field": "v", "type": "quantitative"}
          }
        },
        {
          "data": {"name": "rsiMa"},
          "mark": {"type": "line", "color": "#fdd835", "strokeWidth": 1, "interpolate": "monotone"},
          "encoding": {"y": {"field": "v", "type": "quantitative"}}
        },
        {
          "data": {"name": "rsi"},
          "mark": {"type": "line", "color": "#7e57c2", "strokeWidth": 1},
          "encoding": {"y": {"field": "v", "type": "quantitative"}}
        }
      ]
    },
    {
      "layer": [
        {
          "data": {"values": [
            {"i":-0.555,"i2":242.94,"p":1.1577},
            {"i":-0.555,"i2":242.94,"p":1.13282}
          ]},
          "mark": {"type": "rule", "color": "#2962ff", "strokeWidth": 3, "strokeDash": [15, 18]},
          "encoding": {
            "x2": {"field": "i2"},
            "y": {
              "field": "p",
              "type": "quantitative",
              "scale": {"domain": [1.070472, 1.223896], "nice": false, "zero": false},
              "axis": {
                "orient": "right",
                "offset": -72,
                "labelPadding": 9,
                "title": null,
                "format": ".5f",
                "values": [1.105,1.11,1.115,1.12,1.125,1.135,1.14,1.145,1.15,1.16,1.165,1.17,1.175,1.18,1.185,1.19,1.195,1.2,1.205,1.21,1.215],
                "grid": false
              }
            }
          }
        },
        {
          "data": {"values": [
            {"i":-0.39,"i2":237.6,"p":1.20831},
            {"i":-0.39,"i2":237.9,"p":1.13246}
          ]},
          "mark": {"type": "rule", "color": "#787b86", "strokeWidth": 1, "strokeDash": [1, 3]},
          "encoding": {
            "x2": {"field": "i2"},
            "y": {"field": "p", "type": "quantitative"}
          }
        },
        {
          "data": {"name": "candles"},
          "mark": {"type": "rule", "strokeWidth": 1},
          "encoding": {
            "y": {"field": "l", "type": "quantitative"},
            "y2": {"field": "h"},
            "color": {"condition": {"test": "datum.c >= datum.o", "value": "#4caf50"}, "value": "#ef5350"}
          }
        },
        {
          "data": {"name": "candles"},
          "mark": {"type": "bar", "size": 5},
          "encoding": {
            "y": {"field": "o", "type": "quantitative"},
            "y2": {"field": "c"},
            "color": {"condition": {"test": "datum.c >= datum.o", "value": "#4caf50"}, "value": "#ef5350"}
          }
        },
        {
          "data": {"name": "maFast"},
          "mark": {"type": "line", "color": "#ffa726", "strokeWidth": 2, "interpolate": "monotone"},
          "encoding": {"y": {"field": "p", "type": "quantitative"}}
        },
        {
          "data": {"name": "maSlow"},
          "mark": {"type": "line", "color": "#ff0000", "strokeWidth": 2, "interpolate": "monotone"},
          "encoding": {"y": {"field": "p", "type": "quantitative"}}
        },
        {
          "data": {"values": [{"i":-0.39,"i2":253.2,"p":1.10373}]},
          "mark": {"type": "rule", "color": "#2a2e39", "strokeWidth": 1},
          "encoding": {
            "x2": {"field": "i2"},
            "y": {"field": "p", "type": "quantitative"}
          }
        },
        {
          "data": {"name": "boxes"},
          "mark": {"type": "rect"},
          "encoding": {
            "x2": {"field": "i2"},
            "y": {"field": "p", "type": "quantitative"},
            "y2": {"field": "p2"},
            "color": {
              "field": "k",
              "type": "nominal",
              "legend": null,
              "scale": {
                "domain": ["dark","white","pale","blue","red","purple","yellow","light","gray","orange","pure","black"],
                "range": ["#1c1c1c","#ffffff","#e3effd","#2962ff","#f7525f","#7e57c2","#fdd33a","#d1d4dc","#b2b5be","#ffa726","#ff0000","#131722"]
              }
            }
          }
        },
        {
          "data": {"values": [{"i":-0.472,"i2":253.2,"p":1.21987,"p2":1.07976}]},
          "mark": {"type": "rect", "fill": "transparent", "stroke": "#6a6d78", "strokeWidth": 1},
          "encoding": {
            "x2": {"field": "i2"},
            "y": {"field": "p", "type": "quantitative"},
            "y2": {"field": "p2"}
          }
        },
        {
          "data": {"values": [{"i":243.6,"i2":252.6,"p":1.21923,"p2":1.21527}]},
          "mark": {"type": "rect", "fill": "#ffffff", "stroke": "#eceef2", "strokeWidth": 1, "cornerRadius": 4},
          "encoding": {
            "x2": {"field": "i2"},
            "y": {"field": "p", "type": "quantitative"},
            "y2": {"field": "p2"}
          }
        },
        {
          "data": {"name": "flagRings"},
          "mark": {"type": "point", "shape": "circle", "filled": false, "fill": "#ffffff", "fillOpacity": 1, "size": 314, "strokeWidth": 1.6, "opacity": 1},
          "encoding": {
            "y": {"field": "p", "type": "quantitative"},
            "stroke": {
              "field": "k",
              "type": "nominal",
              "legend": null,
              "scale": {"domain": ["pure", "purple"], "range": ["#f23645", "#9c27b0"]}
            }
          }
        },
        {
          "data": {"name": "flagParts"},
          "mark": {"type": "rect"},
          "encoding": {
            "x2": {"field": "i2"},
            "y": {"field": "p", "type": "quantitative"},
            "y2": {"field": "p2"},
            "color": {
              "field": "k",
              "type": "nominal",
              "legend": null,
              "scale": {
                "domain": ["dark","white","pale","blue","red","purple","yellow","light","gray","orange","pure","black"],
                "range": ["#1c1c1c","#ffffff","#e3effd","#2962ff","#f7525f","#7e57c2","#fdd33a","#d1d4dc","#b2b5be","#ffa726","#ff0000","#131722"]
              }
            }
          }
        },
        {
          "data": {"name": "labels"},
          "mark": {"type": "text", "align": "left", "baseline": "middle", "fontSize": 11.5},
          "encoding": {
            "y": {"field": "p", "type": "quantitative"},
            "text": {"field": "t"},
            "color": {
              "field": "k",
              "type": "nominal",
              "legend": null,
              "scale": {
                "domain": ["dark","white","pale","blue","red","purple","yellow","light","gray","orange","pure","black"],
                "range": ["#1c1c1c","#ffffff","#e3effd","#2962ff","#f7525f","#7e57c2","#fdd33a","#d1d4dc","#b2b5be","#ffa726","#ff0000","#131722"]
              }
            }
          }
        },
        {
          "data": {"values": [{"i":-0.72,"p":1.22177,"t":"Samo_Danilo created with TradingView.com, Aug 10, 2026 07:29 UTC"}]},
          "mark": {"type": "text", "align": "left", "baseline": "middle", "fontSize": 12, "color": "#d1d4dc"},
          "encoding": {
            "y": {"field": "p", "type": "quantitative"},
            "text": {"field": "t"}
          }
        },
        {
          "data": {"values": [{"i":5.61,"p":1.07504,"t":"TradingView"}]},
          "mark": {"type": "text", "align": "left", "baseline": "middle", "fontSize": 20, "font": "Inter", "fontWeight": 600, "color": "#f0f3fa"},
          "encoding": {
            "y": {"field": "p", "type": "quantitative"},
            "text": {"field": "t"}
          }
        },
        {
          "data": {"values": [{"i":2.11,"p":1.07504}]},
          "mark": {
            "type": "point",
            "shape": "M-1,-0.5 L-0.2,-0.5 L-0.2,0.5 L-0.55,0.5 L-0.55,-0.05 L-1,-0.05 Z M0.55,-0.5 L1,-0.5 L0.55,0.5 L0.08,0.5 Z M-0.05,-0.28 A0.2,0.2 0 1 1 0.35,-0.28 A0.2,0.2 0 1 1 -0.05,-0.28 Z",
            "filled": true,
            "fill": "#f0f3fa",
            "stroke": null,
            "opacity": 1,
            "size": 900
          },
          "encoding": {"y": {"field": "p", "type": "quantitative"}}
        }
      ]
    }
  ],
  "resolve": {"scale": {"y": "independent"}}
}
